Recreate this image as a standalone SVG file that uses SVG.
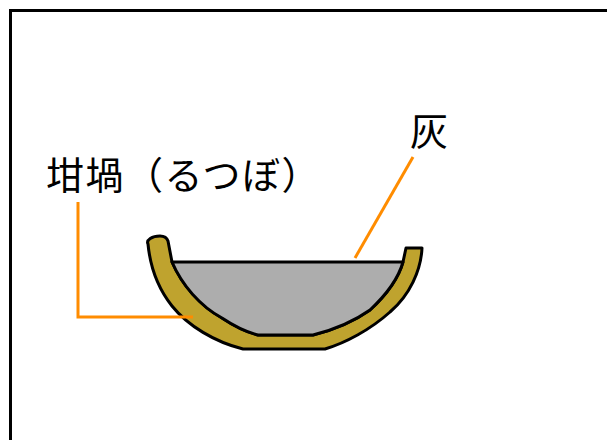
<svg xmlns="http://www.w3.org/2000/svg" width="607" height="440" viewBox="0 0 607 440">
  <style>
    .label { font-family: "Noto Sans CJK JP", "Noto Sans", sans-serif; font-size: 38px; fill: #000; }
    .leader { fill: none; stroke: #FF8C00; stroke-width: 3; }
    .outline { stroke: #000; stroke-width: 3; stroke-linejoin: round; }
  </style>
  <rect width="607" height="440" fill="#fff"/>
  <!-- frame -->
  <rect x="10.5" y="10.5" width="700" height="500" fill="none" stroke="#000" stroke-width="3"/>

  <!-- crucible wall -->
  <g id="crucible">
    <path class="outline" fill="#BFA32E" d="M148,244 C146,240 152,236 160,236 C165,236 167,238 168,241 L172,262 C182,285 200,306 222,318 C234,326 246,332 258,335 L313,335 C333,330 353,322 370,310 C385,296 398,280 403,262 L406,248 L422,248 C421,270 410,295 390,312 C370,330 345,343 325,349 L243,349 C215,342 188,326 172,306 C157,287 150,265 148,244 Z"/>
  </g>
  <!-- ash -->
  <g id="ash">
    <path class="outline" fill="#ADADAD" d="M172,262 L403,262 C398,280 385,296 370,310 C353,322 333,330 313,335 L258,335 C246,332 234,326 222,318 C200,306 182,285 172,262 Z"/>
  </g>

  <!-- leader lines -->
  <g id="connectors">
    <polyline class="leader" points="78,202 78,317 193,317"/>
    <line class="leader" x1="413" y1="157" x2="355" y2="258" stroke-width="2.5"/>
  </g>

  <g id="label-crucible">
    <text class="label" x="46" y="189" letter-spacing="1.5">坩堝（るつぼ）</text>
  </g>
  <g id="label-ash">
    <text class="label" x="410" y="145">灰</text>
  </g>
</svg>
